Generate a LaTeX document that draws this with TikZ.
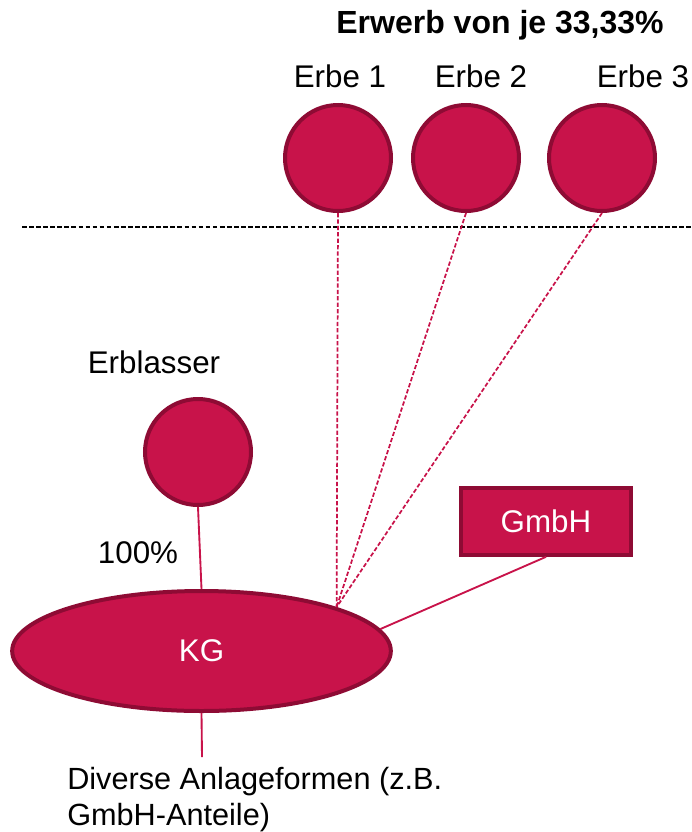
\documentclass[tikz,border=0pt]{standalone}
\usepackage{fontspec}
\setmainfont{Liberation Sans}
\usetikzlibrary{shapes.geometric}

\definecolor{erbrot}{HTML}{C8134A}
\definecolor{erbrand}{HTML}{8E0B34}

\tikzset{
	person/.style={circle,fill=erbrot,draw=erbrand,line width=3pt,minimum size=79.5pt,inner sep=0pt},
	firma/.style={fill=erbrot,draw=erbrand,line width=3pt,text=white},
	beteil/.style={draw=erbrot,line width=1.4pt},
	erbgang/.style={draw=erbrot,line width=1.3pt,dash pattern=on 3.2pt off 1.6pt},
	trenner/.style={draw=black,line width=1pt,dash pattern=on 3.5pt off 1.8pt}
}

\begin{document}
\begin{tikzpicture}[x=0.75pt,y=-0.75pt,font=\fontsize{23.5}{28}\selectfont]
	\useasboundingbox (0,0) rectangle (692,832);
	\node[anchor=base,font=\fontsize{24}{28}\selectfont\bfseries] (titel) at (500,33) {Erwerb von je 33,33\%};
	% die drei Erben
	\foreach \n/\x/\lx in {1/338/340,2/466/481,3/602/643}{
		\node[person] (erbe\n) at (\x,158) {};
		\node[anchor=base] (name\n) at (\lx,87) {Erbe \n};
	}
	\coordinate (links) at (22,227);  \coordinate (rechts) at (692,227);
	\draw[trenner] (links) -- (rechts);
	% Erblasser und KG
	\node[anchor=base] (erblname) at (154,373) {Erblasser};
	\node[person] (erbl) at (198,452) {};
	\node[firma,ellipse,minimum width=284pt,minimum height=90pt,inner sep=0pt] (kg) at (201.5,651) {KG};
	\node[firma,minimum width=127.5pt,minimum height=50pt,inner sep=0pt] (gmbh) at (546,521.5) {GmbH};
	\node[anchor=base] (quote) at (138,563) {100\%};
	\draw[beteil] (erbl.south) -- (kg.north);
	\draw[beteil] (gmbh.south) -- (kg.7);
	\foreach \n in {1,2,3}
	\draw[erbgang] (erbe\n.south) -- (kg.18);
	% Anlageformen
	\node[anchor=base west,align=left,inner sep=0pt,font=\fontsize{23}{26.3}\selectfont] (anlage) at (67,825)
	{Diverse Anlageformen (z.B.\\GmbH-Anteile)};
	\coordinate (fuss) at (202,757);
	\draw[beteil] (kg.south) -- (fuss);
\end{tikzpicture}
\end{document}
